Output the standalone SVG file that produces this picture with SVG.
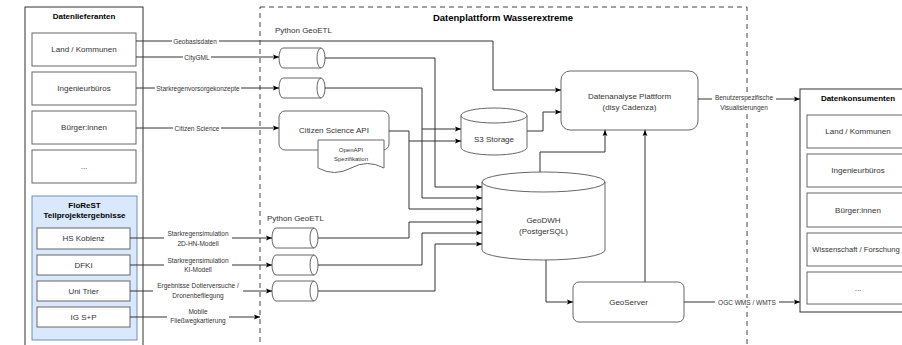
<svg xmlns="http://www.w3.org/2000/svg" width="902" height="345" viewBox="0 0 902 345">
<style>
text{font-family:"Liberation Sans",Arial,sans-serif;fill:#333;text-anchor:middle;dominant-baseline:central}
.t{font-weight:bold;fill:#000;font-size:8px}
.bx{fill:#fff;stroke:#666;stroke-width:1}
.pn{fill:#fff;stroke:#333;stroke-width:1}
.lb{font-size:8px}
.cl{font-size:6.5px}
.bg{fill:#fff;stroke:none}
.cn path{fill:none;stroke:#333;stroke-width:1}
.ar{marker-end:url(#arr)}
</style>
<defs>
<marker id="arr" viewBox="0 0 10 10" refX="10" refY="5" markerWidth="6" markerHeight="6" orient="auto" markerUnits="userSpaceOnUse"><path d="M0,1 L10,5 L0,9 L2,5 z" fill="#000"/></marker>
</defs>
<rect width="902" height="345" fill="#fff"/>

<g id="platform">
<rect x="260" y="7" width="487" height="360" fill="none" stroke="#444" stroke-width="1" stroke-dasharray="5 4"/>
<text class="t" x="503" y="17" style="font-size:9.5px">Datenplattform Wasserextreme</text>
<text x="275" y="30" style="font-size:8px;text-anchor:start">Python GeoETL</text>
<text x="267" y="218" style="font-size:8px;text-anchor:start">Python GeoETL</text>
</g>

<g id="lieferanten">
<rect class="pn" x="25" y="7" width="118" height="350"/>
<text class="t" x="84" y="16">Datenlieferanten</text>
</g>
<g id="l-land"><rect class="bx" x="32" y="33" width="104" height="33"/><text class="lb" x="84" y="49.5">Land / Kommunen</text></g>
<g id="l-ing"><rect class="bx" x="32" y="72" width="104" height="33"/><text class="lb" x="84" y="88.5">Ingenieurbüros</text></g>
<g id="l-buerger"><rect class="bx" x="32" y="111" width="104" height="33"/><text class="lb" x="84" y="127.5">Bürger:innen</text></g>
<g id="l-etc"><rect class="bx" x="32" y="150" width="104" height="33"/><text class="lb" x="84" y="166.5">...</text></g>
<g id="florest">
<rect x="32" y="196" width="105" height="144" fill="#dae8fc" stroke="#6c8ebf" stroke-width="1"/>
<text class="t" x="84.5" y="205">FloReST</text>
<text class="t" x="84.5" y="215">Teilprojektergebnisse</text>
</g>
<g id="f-hs"><rect class="bx" x="37" y="228" width="93" height="21"/><text class="lb" x="83.5" y="238.5">HS Koblenz</text></g>
<g id="f-dfki"><rect class="bx" x="37" y="255" width="93" height="20"/><text class="lb" x="83.5" y="265">DFKI</text></g>
<g id="f-trier"><rect class="bx" x="37" y="281" width="93" height="20"/><text class="lb" x="83.5" y="291">Uni Trier</text></g>
<g id="f-igsp"><rect class="bx" x="37" y="307" width="93" height="20"/><text class="lb" x="83.5" y="317">IG S+P</text></g>

<g id="etl1"><path class="bx" d="M283,48 H321 A4,10 0 0 1 321,68 H283 A4,10 0 0 1 283,48 Z M321,48 A4,10 0 0 0 321,68"/></g>
<g id="etl2"><path class="bx" d="M283,78 H321 A4,10 0 0 1 321,98 H283 A4,10 0 0 1 283,78 Z M321,78 A4,10 0 0 0 321,98"/></g>
<g id="etl3"><path class="bx" d="M276,228 H314 A4,10 0 0 1 314,248 H276 A4,10 0 0 1 276,228 Z M314,228 A4,10 0 0 0 314,248"/></g>
<g id="etl4"><path class="bx" d="M276,255 H314 A4,10 0 0 1 314,275 H276 A4,10 0 0 1 276,255 Z M314,255 A4,10 0 0 0 314,275"/></g>
<g id="etl5"><path class="bx" d="M276,281 H314 A4,10 0 0 1 314,301 H276 A4,10 0 0 1 276,281 Z M314,281 A4,10 0 0 0 314,301"/></g>

<g id="citizen-api"><rect class="bx" x="279" y="111" width="110" height="39" rx="6"/><text class="lb" x="334" y="130">Citizen Science API</text></g>
<g id="openapi">
<path class="bx" d="M318,140 H384 V168 Q367.5,159 351,168 Q334.5,177 318,168 Z"/>
<text x="351" y="150" style="font-size:6px">OpenAPI</text>
<text x="351" y="159" style="font-size:6px">Spezifikation</text>
</g>
<g id="s3"><path class="bx" d="M461,115.5 A33,7.5 0 0 1 527,115.5 V147.5 A33,7.5 0 0 1 461,147.5 Z M461,115.5 A33,7.5 0 0 0 527,115.5"/><text class="lb" x="494" y="139">S3 Storage</text></g>
<g id="geodwh"><path class="bx" d="M482,182 A61.5,10 0 0 1 605,182 V250 A61.5,10 0 0 1 482,250 Z M482,182 A61.5,10 0 0 0 605,182"/><text class="lb" x="543.5" y="220">GeoDWH</text><text class="lb" x="543.5" y="231">(PostgerSQL)</text></g>
<g id="analyse"><rect class="bx" x="561" y="71" width="137" height="59" rx="9"/><text class="lb" x="629.5" y="96">Datenanalyse Plattform</text><text class="lb" x="629.5" y="107">(disy Cadenza)</text></g>
<g id="geoserver"><rect class="bx" x="573" y="282" width="111" height="40" rx="6"/><text class="lb" x="628.5" y="302">GeoServer</text></g>

<g id="konsumenten">
<rect class="pn" x="800" y="89" width="120" height="223"/>
<text class="t" x="858" y="98">Datenkonsumenten</text>
</g>
<g id="k-land"><rect class="bx" x="807" y="115" width="104" height="33"/><text class="lb" x="858" y="131.5">Land / Kommunen</text></g>
<g id="k-ing"><rect class="bx" x="807" y="154" width="104" height="33"/><text class="lb" x="858" y="170.5">Ingenieurbüros</text></g>
<g id="k-buerger"><rect class="bx" x="807" y="193" width="104" height="34"/><text class="lb" x="858" y="210">Bürger:innen</text></g>
<g id="k-wiss"><rect class="bx" x="807" y="233" width="104" height="33"/><text x="856" y="249.5" style="font-size:7.6px">Wissenschaft / Forschung</text></g>
<g id="k-etc"><rect class="bx" x="807" y="272" width="104" height="32"/><text class="lb" x="858" y="288">...</text></g>

<g id="connectors" class="cn">
<path class="ar" d="M136,41 H493 V90 H561"/>
<path class="ar" d="M136,57 H279"/>
<path class="ar" d="M136,88 H279"/>
<path class="ar" d="M136,128 H279"/>
<path class="ar" d="M325,58 H435 V187 H482"/>
<path class="ar" d="M325,88 H422 V198 H482"/>
<path class="ar" d="M422,129 H461"/>
<path class="ar" d="M389,131 H409 V209 H482"/>
<path class="ar" d="M409,141 H461"/>
<path class="ar" d="M318,238 H409 V222 H482"/>
<path class="ar" d="M318,265 H422 V233 H482"/>
<path class="ar" d="M318,291 H435 V244 H482"/>
<path class="ar" d="M527,131 H543 V112 H561"/>
<path class="ar" d="M540,172 V152 H605 V130"/>
<path class="ar" d="M645,282 V130"/>
<path class="ar" d="M546,260 V302 H573"/>
<path class="ar" d="M698,99 H800"/>
<path class="ar" d="M684,302 H800"/>
<path class="ar" d="M130,238 H272"/>
<path class="ar" d="M130,265 H272"/>
<path class="ar" d="M130,291 H272"/>
<path class="ar" d="M130,317 H260"/>
</g>

<g id="connector-labels">
<rect class="bg" x="172" y="37" width="47" height="8"/><text class="cl" x="195" y="41">Geobasisdaten</text>
<rect class="bg" x="183" y="53" width="28" height="8"/><text class="cl" x="197" y="57">CityGML</text>
<rect class="bg" x="155" y="84" width="86" height="8"/><text class="cl" x="198" y="88">Starkregenvorsorgekonzepte</text>
<rect class="bg" x="173" y="124" width="48" height="8"/><text class="cl" x="197" y="128">Citizen Science</text>
<rect class="bg" x="164" y="228" width="68" height="19"/><text class="cl" x="198" y="233">Starkregensimulation</text><text class="cl" x="198" y="243">2D-HN-Modell</text>
<rect class="bg" x="164" y="255" width="68" height="19"/><text class="cl" x="198" y="260">Starkregensimulation</text><text class="cl" x="198" y="269.5">KI-Modell</text>
<rect class="bg" x="153" y="281" width="90" height="19"/><text class="cl" x="198" y="285.5">Ergebnisse Dotierversuche /</text><text class="cl" x="198" y="295">Dronenbefliegung</text>
<rect class="bg" x="167" y="306" width="62" height="19"/><text class="cl" x="198" y="311">Mobile</text><text class="cl" x="198" y="320.5">Fließwegkartierung</text>
<rect class="bg" x="712" y="92" width="64" height="19"/><text class="cl" x="744" y="97">Benutzerspezifische</text><text class="cl" x="744" y="107">Visualisierungen</text>
<rect class="bg" x="715" y="298" width="64" height="8"/><text class="cl" x="747" y="302">OGC WMS / WMTS</text>
</g>
</svg>
